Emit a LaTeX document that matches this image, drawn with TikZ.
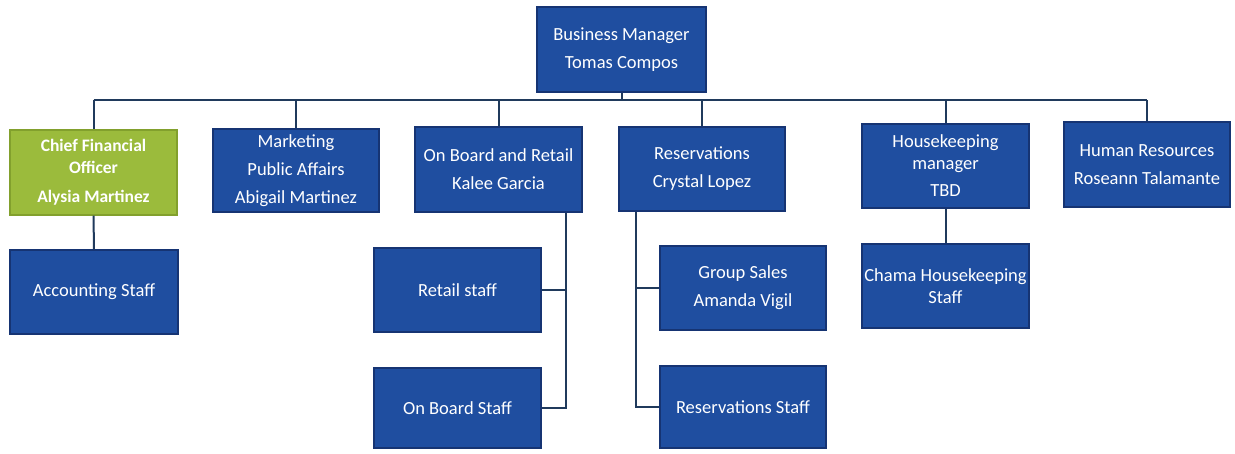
\documentclass[tikz,border=0pt]{standalone}
\usepackage{fontspec}
\setmainfont{Carlito}
\definecolor{boxblue}{RGB}{31,78,160}
\definecolor{boxedge}{RGB}{22,52,115}
\definecolor{cfogreen}{RGB}{155,187,60}
\definecolor{cfoedge}{RGB}{130,160,45}
\definecolor{linecol}{RGB}{32,58,92}
\begin{document}
\begin{tikzpicture}[x=1pt,y=-1pt,
  box/.style={draw=boxedge,fill=boxblue,line width=1.2pt,text=white,align=center,
    inner sep=2pt,font=\fontsize{18.5}{22}\selectfont},
  gbox/.style={box,draw=cfoedge,fill=cfogreen,font=\fontsize{17.5}{22}\selectfont\bfseries},
  conn/.style={draw=linecol,line width=2pt}]
\useasboundingbox (0,0) rectangle (1235,453);
\fill[white] (0,0) rectangle (1235,453);
% top level
\node[box,minimum width=169pt,minimum height=85pt] (bm) at (621.5,49.5) {Business Manager\\[6pt]Tomas Compos};
% second level
\node[gbox,minimum width=167pt,minimum height=85pt] (cfo) at (93.5,172.5) {Chief Financial\\Officer\\[7pt]Alysia Martinez};
\node[box,minimum width=166pt,minimum height=83pt] (mkt) at (296,170.5) {Marketing\\[6pt]Public Affairs\\[6pt]Abigail Martinez};
\node[box,minimum width=167pt,minimum height=85pt] (obr) at (498.5,169.5) {On Board and Retail\\[6pt]Kalee Garcia};
\node[box,minimum width=166pt,minimum height=84pt] (res) at (702,169) {Reservations\\[6pt]Crystal Lopez};
\node[box,minimum width=167pt,minimum height=84pt] (hk) at (945.5,166) {Housekeeping\\manager\\[5pt]TBD};
\node[box,minimum width=166pt,minimum height=85pt] (hr) at (1147,164.5) {Human Resources\\[6pt]Roseann Talamante};
% third level
\node[box,minimum width=168pt,minimum height=84pt] (acc) at (94,292) {Accounting Staff};
\node[box,minimum width=167pt,minimum height=84pt] (ret) at (457.5,290) {Retail staff};
\node[box,minimum width=167pt,minimum height=80pt] (obs) at (457.5,408) {On Board Staff};
\node[box,minimum width=166pt,minimum height=84pt] (gs) at (743,288) {Group Sales\\[6pt]Amanda Vigil};
\node[box,minimum width=166pt,minimum height=82pt] (rs) at (743,407) {Reservations Staff};
\node[box,minimum width=167pt,minimum height=84pt] (chs) at (945.5,286) {Chama Housekeeping\\Staff};
% connectors
\coordinate (bus) at (0,100);
\draw[conn] (bm.south) -- (bm.south |- bus);
\draw[conn] (cfo.north |- bus) -- (hr.north |- bus);
\foreach \n in {cfo,mkt,obr,res,hk,hr}{
  \draw[conn] (\n.north |- bus) -- (\n.north);
}
\draw[conn] (cfo.south) -- (acc.north);
\draw[conn] (hk.south) -- (chs.north);
\coordinate (obrdrop) at ([xshift=67.5pt]obr.south);
\draw[conn] (obrdrop) |- (obs.east);
\draw[conn] (ret.east) -- (ret.east -| obrdrop);
\coordinate (resdrop) at ([xshift=-66pt]res.south);
\draw[conn] (resdrop) |- (rs.west);
\draw[conn] (gs.west) -- (gs.west -| resdrop);
\end{tikzpicture}
\end{document}
